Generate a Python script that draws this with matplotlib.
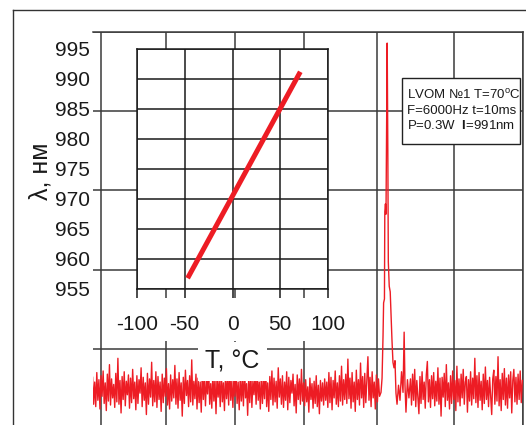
import numpy as np
import matplotlib.pyplot as plt
from matplotlib.patches import Rectangle
from matplotlib.lines import Line2D

plt.rcParams['font.family'] = ['Liberation Sans', 'DejaVu Sans']
plt.rcParams['axes.unicode_minus'] = False
plt.rcParams['mathtext.fontset'] = 'custom'
plt.rcParams['mathtext.rm'] = 'Liberation Sans'
plt.rcParams['mathtext.it'] = 'Liberation Sans:italic'
plt.rcParams['mathtext.bf'] = 'Liberation Sans:bold'

RED = '#ed1c24'
GRID = '#3a3a3a'

# Spectrum (channel, intensity in arbitrary units)
channels_left = np.arange(-12, 396.1, 1.5)
noise_left = [64, 30, 58, 27, 70, 35, 61, 24, 66, 40, 72, 31, 57, 22, 68, 34, 80, 29, 62, 38,
              55, 26, 69, 33, 88, 30, 60, 19, 65, 36, 71, 28, 59, 42, 67, 25, 63, 32, 74, 37,
              58, 23, 66, 31, 61, 44, 76, 27, 64, 35, 57, 17, 69, 30, 62, 39, 83, 28, 60, 33,
              71, 26, 65, 36, 58, 21, 68, 32, 63, 40, 75, 29, 56, 24, 67, 34, 61, 38, 79, 30,
              62, 25, 70, 35, 57, 15, 64, 31, 73, 41, 60, 27, 66, 33, 86, 29, 59, 37, 68, 24,
              63, 32, 58, 20, 72, 36, 65, 28, 61, 43, 77, 30, 56, 25, 69, 34, 62, 18, 66, 39,
              60, 27, 74, 33, 57, 22, 68, 37, 63, 29, 81, 35, 59, 26, 65, 40, 71, 31, 58, 23,
              67, 34, 62, 28, 78, 38, 56, 16, 64, 32, 70, 26, 60, 42, 66, 30, 73, 35, 58, 24,
              69, 31, 61, 37, 84, 27, 57, 21, 65, 36, 72, 29, 63, 33, 59, 25, 76, 39, 62, 30,
              66, 26, 58, 35, 71, 23, 64, 32, 60, 44, 68, 28, 55, 19, 67, 36, 62, 30, 74, 34,
              57, 28, 61, 33, 52, 20, 63, 36, 56, 25, 59, 31, 66, 27, 54, 18, 60, 34, 57, 29,
              62, 35, 58, 26, 70, 32, 64, 23, 60, 38, 72, 30, 57, 27, 66, 34, 78, 29, 61, 36,
              68, 31, 87, 37, 63, 25, 70, 33, 58, 21, 73, 36, 61, 29, 82, 38, 65, 26, 69, 32,
              60, 90, 35, 64, 27, 71, 38, 58, 24, 67, 33, 62, 40]
channels_peak = [398.1, 399.6, 401.0, 401.8, 403.0, 403.5, 404.4, 405.2, 406.1,
                 406.9, 407.8, 408.5, 409.8, 411.2, 413.7, 415.1, 416.6, 418.0,
                 419.4, 420.9, 423.0, 425.1, 427.3, 429.4, 431.0, 432.2, 433.6,
                 435.7, 437.8]
intens_peak = [45, 63, 117, 158, 163, 273, 283, 270, 389,
               486, 351, 210, 179, 172, 111, 83, 76, 85,
               44, 30, 54, 35, 71, 45, 121, 54, 20,
               61, 38]
channels_right = np.arange(440, 599.1, 1.5)
noise_right = [62, 29, 68, 35, 74, 27, 60, 38, 18, 65, 31, 71, 36, 58, 25, 67, 84, 33, 61, 26,
               66, 37, 70, 28, 59, 34, 76, 30, 63, 15, 64, 39, 69, 27, 80, 35, 57, 24, 66, 31,
               72, 36, 60, 22, 78, 33, 62, 28, 68, 38, 74, 30, 58, 65, 20, 61, 34, 71, 29, 63,
               37, 88, 32, 66, 26, 70, 35, 59, 23, 68, 31, 77, 36, 60, 27, 64, 40, 17, 62, 73,
               30, 65, 34, 90, 28, 61, 22, 69, 36, 75, 29, 63, 25, 67, 38, 71, 19, 60, 74, 33,
               64, 30, 68, 36, 72, 32, 60]
grid_x = [0, 92, 190, 289, 392, 502, 600]
grid_y = [100, 200, 300, 400, 500]

# Inset: wavelength vs temperature
temp_inset = [-47, 0, 48, 71]
lambda_inset = [956.8, 970.5, 984.5, 991.2]
inset_xticks = [-100, -50, 0, 50, 100]
inset_yticks = [955, 960, 965, 970, 975, 980, 985, 990, 995]

info_lines = [r'LVOM №1 T=70$^{\mathrm{o}}$C',
              'F=6000Hz t=10ms',
              r'P=0.3W  $\mathbf{l}$=991nm']

fig = plt.figure(figsize=(5.26, 4.25), dpi=100)

# main spectrum axes
ax = fig.add_axes([93/526, -3/425, 430/526, 396/425], zorder=0)
x = np.concatenate([channels_left, channels_peak, channels_right])
y = np.concatenate([noise_left, intens_peak, noise_right])
ax.plot(x, y, color=RED, lw=1.0, zorder=3)
ax.set_xlim(-11.4, 600)
ax.set_ylim(0, 500)
ax.set_xticks(grid_x)
ax.set_yticks(grid_y)
ax.tick_params(length=0, labelbottom=False, labelleft=False)
ax.grid(True, color=GRID, lw=1.1)
for side in ['left', 'bottom']:
    ax.spines[side].set_visible(False)
for side in ['top', 'right']:
    ax.spines[side].set_color(GRID)
    ax.spines[side].set_linewidth(1.1)

# info box
ax.add_patch(Rectangle((0.7186, 0.7172), 0.2744, 0.1666, transform=ax.transAxes,
                       facecolor='white', edgecolor='#222222', lw=1.0, zorder=4))
for i, line in enumerate(info_lines):
    ax.text(0.730, 0.8308 - i * 0.0379, line, transform=ax.transAxes,
            fontsize=9.5, va='baseline', ha='left', color='#1a1a1a', zorder=5)

# white area under the inset tick labels
fig.add_artist(Rectangle((110/526, (425-341)/425), 235/526, 43/425,
                         transform=fig.transFigure, facecolor='white',
                         edgecolor='none', zorder=1))

# inset
axi = fig.add_axes([137/526, (425-289)/425, 191/526, 240/425], zorder=2)
axi.plot(temp_inset, lambda_inset, color=RED, lw=3.6, solid_capstyle='butt')
axi.set_xlim(-100, 100)
axi.set_ylim(955, 995)
axi.set_xticks(inset_xticks)
axi.set_yticks(inset_yticks)
axi.grid(True, color='#1a1a1a', lw=1.1)
axi.tick_params(axis='x', direction='out', length=6.5, width=1.1, pad=12,
                labelsize=15, colors='#1a1a1a')
axi.tick_params(axis='y', length=0, pad=34, labelsize=15, colors='#1a1a1a')
for s in axi.spines.values():
    s.set_color('#1a1a1a')
    s.set_linewidth(1.1)
axi.set_xlabel('T, °C', fontsize=18, color='#1a1a1a',
               bbox=dict(facecolor='white', edgecolor='none', boxstyle='square,pad=0.3'))
axi.xaxis.set_label_coords(0.5, -0.25)
axi.set_ylabel('λ, нм', fontsize=18, color='#1a1a1a')
axi.yaxis.set_label_coords(-0.445, 0.49)

# outer frame
fig.add_artist(Line2D([13/526, 13/526], [0, 1 - 10/425], transform=fig.transFigure,
                      color='#333333', lw=1.0))
fig.add_artist(Line2D([13/526, 1], [1 - 10/425, 1 - 10/425], transform=fig.transFigure,
                      color='#333333', lw=1.0))

fig.savefig('out.png', dpi=100)
